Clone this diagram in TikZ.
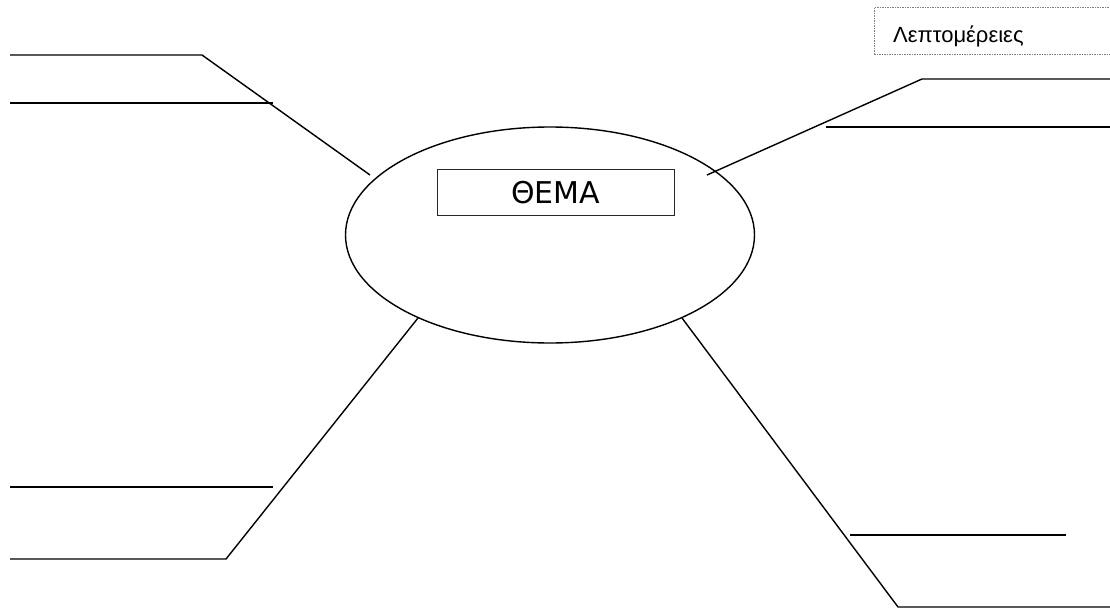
\documentclass[tikz,border=0pt]{standalone}
\usepackage{fontspec}
\setmainfont{DejaVu Sans}
\newfontfamily\detfont{Liberation Sans}
\newfontfamily\themefont{DejaVu Sans}
\usetikzlibrary{shapes.geometric}
\tikzset{
  branch/.style={line width=1.4pt, line cap=butt, line join=miter},
  writeline/.style={line width=1.6pt},
  themebox/.style={draw=black!85, line width=0.8pt, rectangle, minimum width=237pt, minimum height=46pt, inner sep=0pt},
  detbox/.style={draw=gray, line width=0.6pt, dash pattern=on 1.5pt off 1pt, rectangle, anchor=north west, minimum width=260pt, minimum height=47pt, inner sep=0pt},
}
\begin{document}
\begin{tikzpicture}[x=1pt,y=-1pt]
\useasboundingbox (0,0) rectangle (1110,610);
% central ellipse
\node[draw, ellipse, line width=1.4pt, minimum width=409pt, minimum height=216pt, inner sep=0pt] (topic) at (550,235) {};
\node[themebox] (theme) at (555.5,192) {};
\node[font=\themefont\fontsize{30}{34}\selectfont, inner sep=0pt] (themetext) at (555.5,193) {ΘΕΜΑ};
% details box
\node[detbox] (det) at (874,7) {};
\node[font=\detfont\fontsize{22}{26}\selectfont, anchor=base west, inner sep=0pt] (dettext) at (893,43) {Λεπτομέρειες};
% coordinates
\coordinate (tlA) at (370,175);
\coordinate (tlB) at (202,55);
\coordinate (tlC) at (10,55);
\coordinate (tl2a) at (10,103);
\coordinate (tl2b) at (273,103);
\coordinate (trA) at (707,175);
\coordinate (trB) at (922,79);
\coordinate (trC) at (1110,79);
\coordinate (tr2a) at (826,127);
\coordinate (tr2b) at (1110,127);
\coordinate (blA) at (418,318);
\coordinate (blB) at (226,559);
\coordinate (blC) at (10,559);
\coordinate (bl2a) at (10,487);
\coordinate (bl2b) at (273,487);
\coordinate (brA) at (682,318);
\coordinate (brB) at (898,607);
\coordinate (brC) at (1110,607);
\coordinate (br2a) at (850,535);
\coordinate (br2b) at (1066,535);
% branches
\draw[branch] (tlA) -- (tlB) -- (tlC);
\draw[writeline] (tl2a) -- (tl2b);
\draw[branch] (trA) -- (trB) -- (trC);
\draw[writeline] (tr2a) -- (tr2b);
\draw[branch] (blA) -- (blB) -- (blC);
\draw[writeline] (bl2a) -- (bl2b);
\draw[branch] (brA) -- (brB) -- (brC);
\draw[writeline] (br2a) -- (br2b);
\end{tikzpicture}
\end{document}
